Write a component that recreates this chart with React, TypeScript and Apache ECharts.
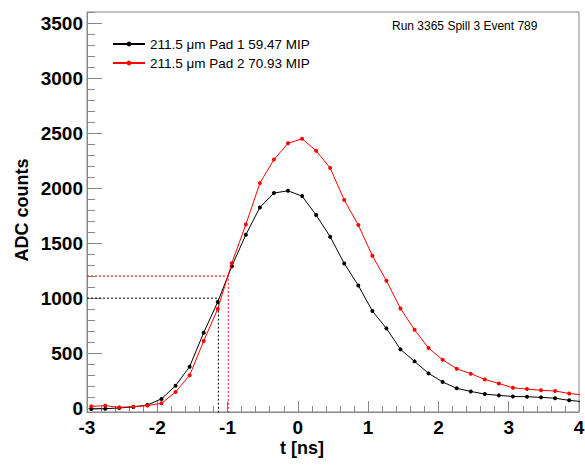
import React, { useEffect, useRef } from "react";
import * as echarts from "echarts";

// Sampling times [ns]
const times = [
  -2.94, -2.74, -2.54, -2.34, -2.14, -1.94, -1.74, -1.54, -1.34, -1.14,
  -0.94, -0.74, -0.54, -0.34, -0.14, 0.06, 0.26, 0.46, 0.66, 0.86,
  1.06, 1.26, 1.46, 1.66, 1.86, 2.06, 2.26, 2.46, 2.66, 2.86,
  3.06, 3.26, 3.46, 3.66, 3.86, 4.06,
];
// ADC counts, Pad 1 (black)
const pad1 = [
  -7, -5, 2, 11, 29, 84, 204, 377, 686, 965,
  1290, 1576, 1824, 1955, 1975, 1927, 1755, 1558, 1315, 1115,
  883, 725, 534, 425, 316, 238, 180, 152, 128, 116,
  106, 104, 98, 90, 71, 58,
];
// ADC counts, Pad 2 (red)
const pad2 = [
  16, 23, 7, 14, 23, 44, 147, 298, 610, 901,
  1317, 1669, 2045, 2259, 2407, 2448, 2339, 2182, 1891, 1664,
  1385, 1158, 906, 713, 546, 440, 358, 313, 261, 224,
  185, 174, 162, 156, 133, 120,
];
const seriesNames = ["211.5 \u03bcm Pad 1 59.47 MIP", "211.5 \u03bcm Pad 2 70.93 MIP"];
const seriesColors = ["#000000", "#ff0000"];
// threshold crossing markers
const thresholdT = [-1.13, -0.99];
const thresholdADC = [1000, 1200];

const yMajorTicks = [0, 500, 1000, 1500, 2000, 2500, 3000, 3500];
const yMinorTicks = [
  100, 200, 300, 400, 600, 700, 800, 900, 1100, 1200, 1300, 1400,
  1600, 1700, 1800, 1900, 2100, 2200, 2300, 2400, 2600, 2700, 2800, 2900,
  3100, 3200, 3300, 3400, 3600,
];
const xMin = -3;
const xMax = 4;
const yMin = -35;
const yMax = 3600;
const infoText = "Run 3365 Spill 3 Event 789";
const xTitle = "t [ns]";
const yTitle = "ADC counts";

const FONT = "'Liberation Sans', Arial, Helvetica, sans-serif";
const FRAME = "#888888";

export default function App() {
  const ref = useRef<HTMLDivElement>(null);
  useEffect(() => {
    if (!ref.current) return;
    const chart = echarts.init(ref.current, undefined, { renderer: "svg" });
    const pads = [pad1, pad2];
    const dataSeries = pads.map((vals, i) => ({
      name: seriesNames[i],
      type: "line",
      data: times.map((t, k) => [t, vals[k]]),
      symbol: "circle",
      symbolSize: 4,
      showSymbol: true,
      clip: true,
      itemStyle: { color: seriesColors[i] },
      lineStyle: { color: seriesColors[i], width: 1 },
      z: 3 + i,
    }));
    const dashSeries = thresholdT.map((t, i) => ({
      name: "thr" + i,
      type: "line",
      data: [
        [xMin, thresholdADC[i]],
        [t, thresholdADC[i]],
        [t, yMin],
      ],
      symbol: "none",
      lineStyle: { color: seriesColors[i], width: 1, type: [2, 2] },
      z: 2,
      silent: true,
    }));
    const labelStyle = {
      fontFamily: FONT,
      fontSize: 19,
      fontWeight: "bold",
      color: "#000",
    };
    chart.setOption({
      animation: false,
      backgroundColor: "#ffffff",
      grid: {
        left: 87,
        top: 12,
        width: 492,
        height: 400,
        show: true,
        borderColor: FRAME,
        borderWidth: 1,
        backgroundColor: "transparent",
        outerBoundsMode: "none",
        containLabel: false,
      },
      legend: {
        data: seriesNames,
        orient: "vertical",
        left: 107,
        top: 32,
        itemWidth: 32,
        itemHeight: 6,
        itemGap: 5,
        textStyle: { fontFamily: FONT, fontSize: 13.5, color: "#000" },
      },
      xAxis: {
        type: "value",
        min: xMin,
        max: xMax,
        interval: 1,
        axisLine: { show: true, onZero: false, lineStyle: { color: FRAME, width: 1 } },
        axisTick: { show: true, inside: true, length: 11, lineStyle: { color: FRAME } },
        minorTick: { show: true, splitNumber: 5, length: 6, lineStyle: { color: FRAME } },
        splitLine: { show: false },
        minorSplitLine: { show: false },
        axisLabel: {
          ...labelStyle,
          margin: 6,
          showMinLabel: true,
          showMaxLabel: true,
          formatter: (v: number) => String(v),
        },
      },
      yAxis: [
        {
          type: "value",
          min: yMin,
          max: yMax,
          axisLine: { show: true, onZero: false, lineStyle: { color: FRAME, width: 1 } },
          axisTick: {
            show: true,
            inside: true,
            length: 15,
            customValues: yMajorTicks,
            lineStyle: { color: FRAME },
          },
          splitLine: { show: false },
          axisLabel: {
            ...labelStyle,
            customValues: yMajorTicks,
            margin: 4,
            formatter: (v: number) => String(v),
          },
        },
        {
          type: "value",
          min: yMin,
          max: yMax,
          position: "left",
          axisLine: { show: false, onZero: false },
          axisTick: {
            show: true,
            inside: true,
            length: 8,
            customValues: yMinorTicks,
            lineStyle: { color: FRAME },
          },
          axisLabel: { show: false },
          splitLine: { show: false },
        },
      ],
      graphic: [
        {
          type: "text",
          left: 392,
          top: 20,
          style: { text: infoText, fontFamily: FONT, fontSize: 12, fill: "#000" },
        },
        {
          type: "text",
          x: 302,
          y: 448,
          style: {
            text: xTitle,
            fontFamily: FONT,
            fontSize: 18,
            fontWeight: "bold",
            fill: "#000",
            align: "center",
            verticalAlign: "middle",
          },
        },
        {
          type: "text",
          x: 22,
          y: 210,
          rotation: Math.PI / 2,
          style: {
            text: yTitle,
            fontFamily: FONT,
            fontSize: 18,
            fontWeight: "bold",
            fill: "#000",
            align: "center",
            verticalAlign: "middle",
          },
        },
      ],
      series: [...dashSeries, ...dataSeries],
    });
    return () => chart.dispose();
  }, []);
  return (
    <div
      ref={ref}
      style={{ position: "absolute", left: 0, top: 0, width: 585, height: 465 }}
    />
  );
}
